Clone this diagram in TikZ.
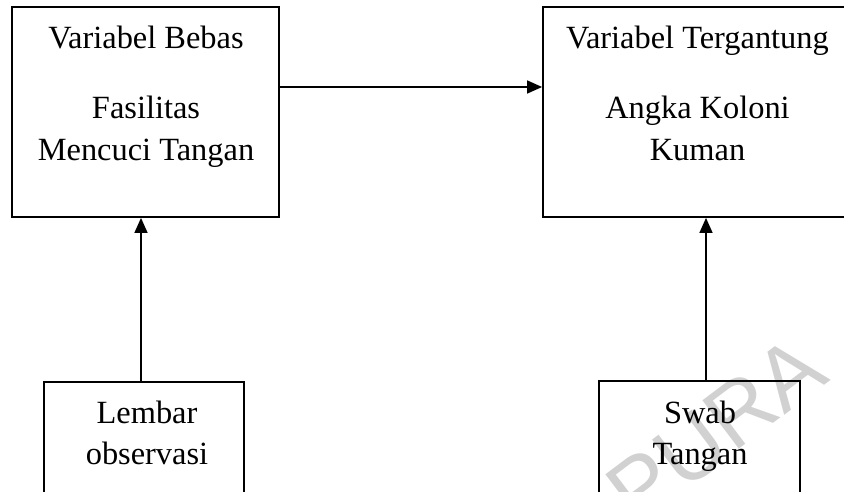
\documentclass[tikz,border=0pt]{standalone}
\usepackage{fontspec}
\setmainfont{Liberation Serif}
\newfontfamily\wmfont{Liberation Sans}
\usetikzlibrary{arrows.meta}
\begin{document}
\begin{tikzpicture}[x=1pt,y=-1pt,
  box/.style={draw=black, line width=1.8pt, inner sep=0pt},
  txt/.style={anchor=base, inner sep=0pt, font=\fontsize{32.4}{41}\selectfont},
  arr/.style={line width=1.4pt, -{Triangle[length=15pt,width=13pt]}},
  wm/.style={text=black!18, font=\wmfont\fontsize{88}{88}\selectfont, rotate=37}]
\useasboundingbox (0,0) rectangle (844,492);
% watermark
\node[wm] (W) at (716,430) {PURA};
% boxes
\node[box, minimum width=267pt, minimum height=210pt] (A) at (145.5,112) {};
\node[box, minimum width=309pt, minimum height=210pt] (B) at (697.5,112) {};
\node[box, minimum width=200pt, minimum height=140pt] (C) at (144,452) {};
\node[box, minimum width=201pt, minimum height=140pt] (D) at (699.5,451) {};
% texts
\node[txt] (A1) at (146,49) {Variabel Bebas};
\node[txt] (A2) at (146,119) {Fasilitas};
\node[txt] (A3) at (146,161) {Mencuci Tangan};
\node[txt] (B1) at (697.5,49) {Variabel Tergantung};
\node[txt] (B2) at (697.5,119) {Angka Koloni};
\node[txt] (B3) at (697.5,161) {Kuman};
\node[txt] (C1) at (147,423) {Lembar};
\node[txt] (C2) at (147,464) {observasi};
\node[txt] (D1) at (700,423) {Swab};
\node[txt] (D2) at (700,464) {Tangan};
% connectors
\draw[arr] (A.east |- 0,87) -- (B.west |- 0,87);
\draw[arr] (C.north -| 141,0) -- (A.south -| 141,0);
\draw[arr] (D.north -| 706,0) -- (B.south -| 706,0);
\end{tikzpicture}
\end{document}
